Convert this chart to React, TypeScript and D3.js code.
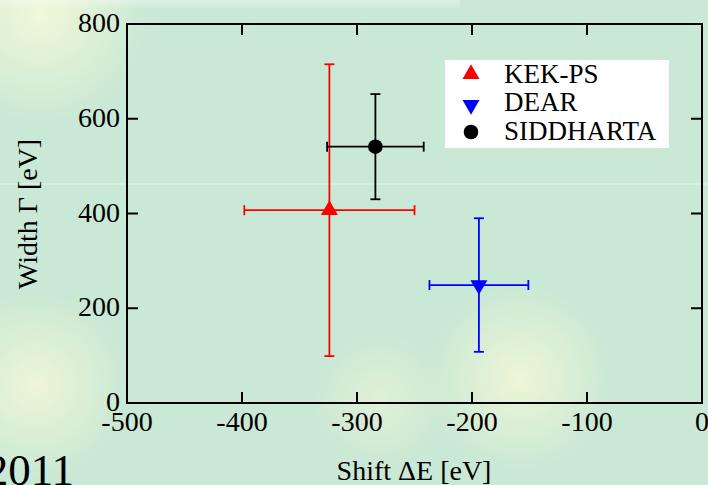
import React from "react";
import * as d3 from "d3";

const series = ["KEK-PS", "DEAR", "SIDDHARTA"];
const shiftValues = [-324, -194, -284];
const shiftErrors = [74, 43, 42];
const widthValues = [407, 249, 541];
const widthErrors = [308, 141, 111];
const markerKinds = ["up", "down", "circle"];
const colors = ["#ff0000", "#0000ff", "#000000"];
const xTicks = [-500, -400, -300, -200, -100, 0];
const yTicks = [0, 200, 400, 600, 800];

const W = 708;
const H = 485;
const FONT = "'Liberation Serif', 'Times New Roman', serif";

function symbolPath(kind: string) {
  if (kind === "circle") return d3.symbol(d3.symbolCircle, 168)() as string;
  return d3.symbol(d3.symbolTriangle, 125)() as string;
}

export default function App() {
  const x = d3.scaleLinear().domain([-500, 0]).range([127, 702]);
  const y = d3.scaleLinear().domain([0, 800]).range([403, 24]);
  const x0 = x.range()[0], x1 = x.range()[1];
  const y0 = y.range()[0], y1 = y.range()[1];
  const cap = 5;
  const tickLen = 11;

  return (
    <svg width={W} height={H} style={{ position: "fixed", left: 0, top: 0, display: "block" }}>
      <defs>
        <radialGradient id="b1" cx="40" cy="15" r="110" gradientUnits="userSpaceOnUse">
          <stop offset="0" stopColor="#f0f8d8" />
          <stop offset="1" stopColor="#f0f8d8" stopOpacity="0" />
        </radialGradient>
        <radialGradient id="b2" cx="35" cy="385" r="95" gradientUnits="userSpaceOnUse">
          <stop offset="0" stopColor="#eef6d6" />
          <stop offset="1" stopColor="#eef6d6" stopOpacity="0" />
        </radialGradient>
        <radialGradient id="b3" cx="520" cy="378" r="95" gradientUnits="userSpaceOnUse">
          <stop offset="0" stopColor="#eef6d6" />
          <stop offset="1" stopColor="#eef6d6" stopOpacity="0" />
        </radialGradient>
        <radialGradient id="b4" cx="380" cy="400" r="70" gradientUnits="userSpaceOnUse">
          <stop offset="0" stopColor="#e6f3d6" stopOpacity="0.8" />
          <stop offset="1" stopColor="#e6f3d6" stopOpacity="0" />
        </radialGradient>
        <linearGradient id="topband" x1="0" y1="0" x2="0" y2="1">
          <stop offset="0" stopColor="#ffffff" stopOpacity="0.35" />
          <stop offset="1" stopColor="#ffffff" stopOpacity="0" />
        </linearGradient>
      </defs>
      <rect x={0} y={0} width={W} height={H} fill="#c9e8d5" />
      <rect x={0} y={0} width={W} height={H} fill="url(#b1)" />
      <rect x={0} y={0} width={W} height={H} fill="url(#b2)" />
      <rect x={0} y={0} width={W} height={H} fill="url(#b3)" />
      <rect x={0} y={0} width={W} height={H} fill="url(#b4)" />
      <rect x={0} y={0} width={460} height={10} fill="url(#topband)" />
      <line x1={0} x2={W} y1={184} y2={184} stroke="#ffffff" strokeOpacity={0.35} strokeWidth={1.5} />

      {/* frame */}
      <rect x={x0} y={y1} width={x1 - x0} height={y0 - y1} fill="none" stroke="#000" strokeWidth={2} />
      {xTicks.map((t) => (
        <g key={"xt" + t}>
          <line x1={x(t)} x2={x(t)} y1={y0} y2={y0 - tickLen} stroke="#000" strokeWidth={2} />
          <line x1={x(t)} x2={x(t)} y1={y1} y2={y1 + tickLen} stroke="#000" strokeWidth={2} />
          <text x={x(t)} y={y0 + 28} textAnchor="middle" fontFamily={FONT} fontSize={28} fill="#000">
            {t}
          </text>
        </g>
      ))}
      {yTicks.map((t) => (
        <g key={"yt" + t}>
          <line x1={x0} x2={x0 + tickLen} y1={y(t)} y2={y(t)} stroke="#000" strokeWidth={2} />
          <line x1={x1} x2={x1 - tickLen} y1={y(t)} y2={y(t)} stroke="#000" strokeWidth={2} />
          <text x={120} y={y(t) + 8} textAnchor="end" fontFamily={FONT} fontSize={28} fill="#000">
            {t}
          </text>
        </g>
      ))}

      {/* error bars and markers */}
      {series.map((s, i) => {
        const cx = x(shiftValues[i]);
        const cy = y(widthValues[i]);
        const xl = x(shiftValues[i] - shiftErrors[i]);
        const xr = x(shiftValues[i] + shiftErrors[i]);
        const yt = y(widthValues[i] + widthErrors[i]);
        const yb = y(widthValues[i] - widthErrors[i]);
        const c = colors[i];
        const kind = markerKinds[i];
        return (
          <g key={s} stroke={c} strokeWidth={1.8} fill="none">
            <line x1={xl} x2={xr} y1={cy} y2={cy} />
            <line x1={xl} x2={xl} y1={cy - cap} y2={cy + cap} />
            <line x1={xr} x2={xr} y1={cy - cap} y2={cy + cap} />
            <line x1={cx} x2={cx} y1={yt} y2={yb} />
            <line x1={cx - cap} x2={cx + cap} y1={yt} y2={yt} />
            <line x1={cx - cap} x2={cx + cap} y1={yb} y2={yb} />
            <path
              d={symbolPath(kind)}
              transform={`translate(${cx},${cy})${kind === "down" ? " rotate(180)" : ""}`}
              fill={c}
              stroke="none"
            />
          </g>
        );
      })}

      {/* legend */}
      <rect x={445} y={60} width={224} height={88} fill="#ffffff" />
      {series.map((s, i) => {
        const ly = [74, 105, 132][i];
        const kind = markerKinds[i];
        return (
          <g key={"lg" + s}>
            <path
              d={symbolPath(kind)}
              transform={`translate(471,${ly})${kind === "down" ? " rotate(180)" : ""}`}
              fill={colors[i]}
            />
            <text x={504} y={[82.5, 111, 139.5][i]} fontFamily={FONT} fontSize={27} fill="#000">
              {s}
            </text>
          </g>
        );
      })}

      {/* axis titles */}
      <text
        x={0}
        y={0}
        transform={`translate(37,214) rotate(-90)`}
        textAnchor="middle"
        fontFamily={FONT}
        fontSize={28}
        fill="#000"
      >
        Width Γ [eV]
      </text>
      <text x={414} y={480} textAnchor="middle" fontFamily={FONT} fontSize={28} fill="#000">
        Shift ΔE [eV]
      </text>

      <text x={74} y={485} textAnchor="end" fontFamily={FONT} fontSize={45} fill="#000">
        2011
      </text>
    </svg>
  );
}
